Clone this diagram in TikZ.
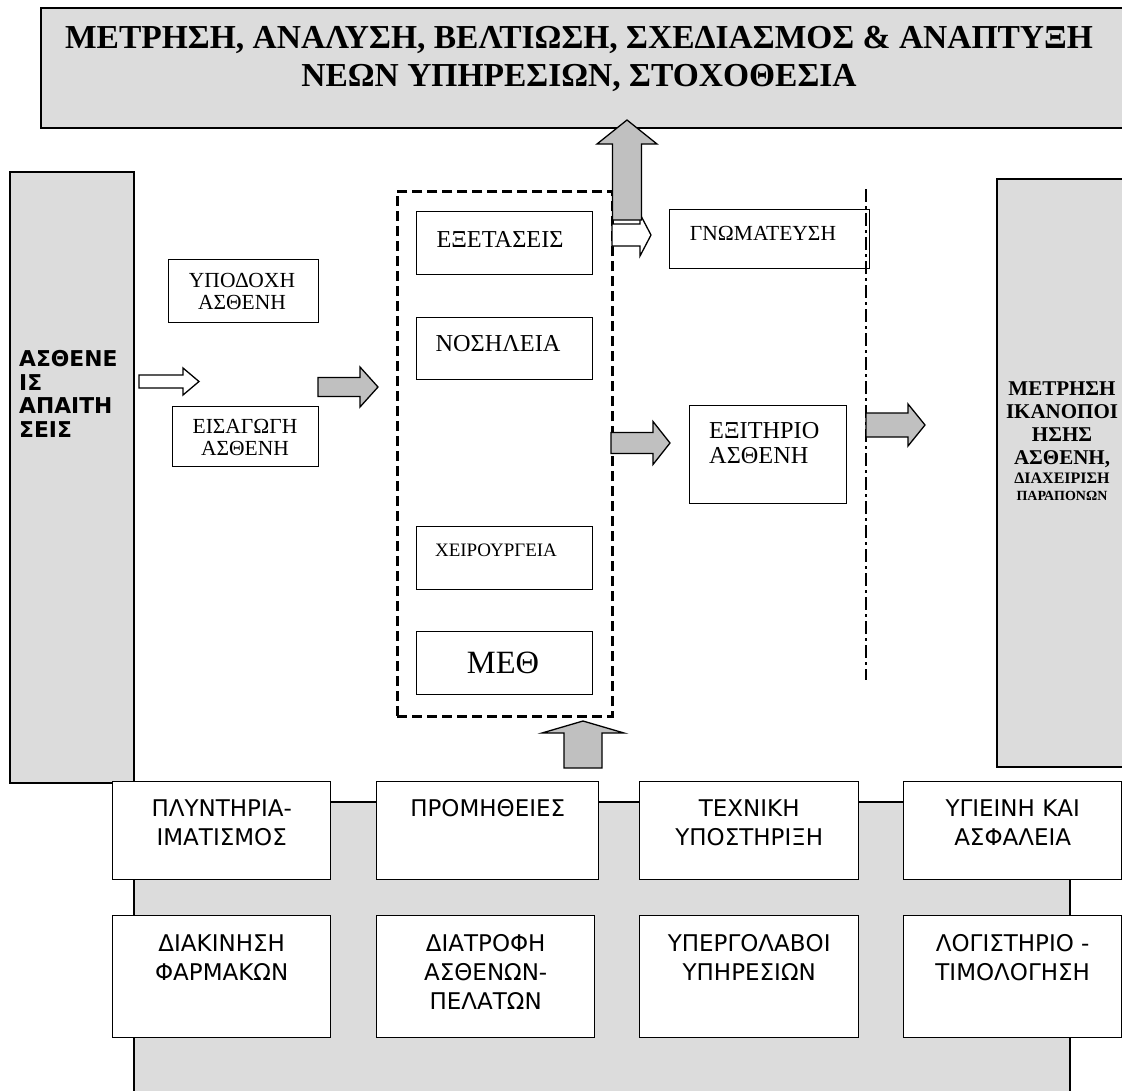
\documentclass[tikz,border=0pt]{standalone}
\usepackage{fontspec}
\setmainfont{Liberation Serif}
\newfontfamily\versans{DejaVu Sans}
\definecolor{panelgray}{HTML}{DCDCDC}
\definecolor{arrowgray}{HTML}{C0C0C0}
\tikzset{
  panel/.style={draw=black, line width=1.5pt, fill=panelgray, inner sep=0pt, anchor=north west},
  frame/.style={draw=black, line width=1.4pt, fill=white, inner sep=0pt, anchor=north west},
  group/.style={draw=black, line width=2.5pt, dash pattern=on 10pt off 5pt, inner sep=0pt, anchor=north west},
  divider/.style={draw=black, line width=2.6pt, dash pattern=on 13pt off 4pt on 3pt off 4pt},
  blockarrow/.style={draw=black, line width=1.3pt, line join=miter},
  serif/.style={inner sep=0pt, align=center, text=black},
  sanstext/.style={inner sep=0pt, align=center, anchor=north, text=black,
    font=\versans\fontsize{23}{29}\selectfont},
}
% right-pointing block arrow: tail x, tip x, head start x, centre y, shaft half, head half, fill
\newcommand\rightblock[7]{%
  \draw[blockarrow, fill=#7] (#1,{#4-#5}) -- (#3,{#4-#5}) -- (#3,{#4-#6}) -- (#2,#4)
    -- (#3,{#4+#6}) -- (#3,{#4+#5}) -- (#1,{#4+#5}) -- cycle;}
% upward block arrow: centre x, tail y, tip y, head base y, shaft half, head half, fill
\newcommand\upblock[7]{%
  \draw[blockarrow, fill=#7] ({#1-#5},#2) -- ({#1-#5},#4) -- ({#1-#6},#4) -- (#1,#3)
    -- ({#1+#6},#4) -- ({#1+#5},#4) -- ({#1+#5},#2) -- cycle;}

\begin{document}
\begin{tikzpicture}[x=1pt,y=-1pt]
\useasboundingbox (0,0) rectangle (1122,1090);

% ---- large grey panels ----
\node[panel, minimum width=1095pt, minimum height=120pt] (goals) at (40,7) {};
\node[serif, font=\bfseries\fontsize{33.5}{38}\selectfont] (goalstext) at (579,59)
  {ΜΕΤΡΗΣΗ, ΑΝΑΛΥΣΗ, ΒΕΛΤΙΩΣΗ, ΣΧΕΔΙΑΣΜΟΣ \& ΑΝΑΠΤΥΞΗ\\ΝΕΩΝ ΥΠΗΡΕΣΙΩΝ, ΣΤΟΧΟΘΕΣΙΑ};

\node[panel, line width=1.8pt, minimum width=124pt, minimum height=611pt] (patients) at (9,171) {};
\node[inner sep=0pt, align=left, anchor=west, font=\versans\bfseries\fontsize{21.8}{23.5}\selectfont]
  (patientstext) at (19,394) {ΑΣΘΕΝΕ\\ΙΣ\\ΑΠΑΙΤΗ\\ΣΕΙΣ};

\node[panel, line width=1.8pt, minimum width=140pt, minimum height=588pt] (satisf) at (996,178) {};
\node[serif, font=\bfseries\fontsize{21}{23}\selectfont] (satisftext) at (1062,441)
  {ΜΕΤΡΗΣΗ\\ΙΚΑΝΟΠΟΙ\\ΗΣΗΣ\\ΑΣΘΕΝΗ,\\[-4pt]
   \fontsize{16}{18}\selectfont ΔΙΑΧΕΙΡΙΣΗ\\[-5.5pt]
   \fontsize{14}{16}\selectfont ΠΑΡΑΠΟΝΩΝ};

% ---- support services ----
\node[panel, minimum width=936pt, minimum height=320pt] (support) at (133,801) {};

\node[frame, minimum width=218pt, minimum height=98pt] (laundry) at (112,781) {};
\node[frame, minimum width=222pt, minimum height=98pt] (supplies) at (376,781) {};
\node[frame, minimum width=219pt, minimum height=98pt] (tech) at (639,781) {};
\node[frame, minimum width=218pt, minimum height=98pt] (hygiene) at (903,781) {};
\node[frame, minimum width=218pt, minimum height=122pt] (drugs) at (112,915) {};
\node[frame, minimum width=218pt, minimum height=122pt] (diet) at (376,915) {};
\node[frame, minimum width=219pt, minimum height=122pt] (subcon) at (639,915) {};
\node[frame, minimum width=218pt, minimum height=122pt] (billing) at (903,915) {};

\node[sanstext] at ([yshift=-18.5pt]laundry.north) {ΠΛΥΝΤΗΡΙΑ-\\ΙΜΑΤΙΣΜΟΣ};
\node[sanstext] at ([yshift=-18.5pt]supplies.north) {ΠΡΟΜΗΘΕΙΕΣ};
\node[sanstext] at ([yshift=-18.5pt]tech.north) {ΤΕΧΝΙΚΗ\\ΥΠΟΣΤΗΡΙΞΗ};
\node[sanstext] at ([yshift=-18.5pt]hygiene.north) {ΥΓΙΕΙΝΗ ΚΑΙ\\ΑΣΦΑΛΕΙΑ};
\node[sanstext] at ([yshift=-19.5pt]drugs.north) {ΔΙΑΚΙΝΗΣΗ\\ΦΑΡΜΑΚΩΝ};
\node[sanstext] at ([yshift=-19.5pt]diet.north) {ΔΙΑΤΡΟΦΗ\\ΑΣΘΕΝΩΝ-\\ΠΕΛΑΤΩΝ};
\node[sanstext] at ([yshift=-19.5pt]subcon.north) {ΥΠΕΡΓΟΛΑΒΟΙ\\ΥΠΗΡΕΣΙΩΝ};
\node[sanstext] at ([yshift=-19.5pt]billing.north) {ΛΟΓΙΣΤΗΡΙΟ -\\ΤΙΜΟΛΟΓΗΣΗ};

% ---- admission ----
\node[frame, minimum width=150pt, minimum height=63pt] (reception) at (168,259) {};
\node[serif, font=\fontsize{21.5}{22}\selectfont] at (242,291) {ΥΠΟΔΟΧΗ\\ΑΣΘΕΝΗ};
\node[frame, minimum width=146pt, minimum height=60pt] (admission) at (172,406) {};
\node[serif, font=\fontsize{21.5}{22}\selectfont] at (245,437.5) {ΕΙΣΑΓΩΓΗ\\ΑΣΘΕΝΗ};

% ---- hospital care ----
\node[group, minimum width=215pt, minimum height=525pt] (care) at (396,190) {};
\node[frame, minimum width=176pt, minimum height=63pt] (exams) at (416,211) {};
\node[serif, font=\fontsize{24.3}{25}\selectfont] at (500,239) {ΕΞΕΤΑΣΕΙΣ};
\node[frame, minimum width=176pt, minimum height=62pt] (ward) at (416,317) {};
\node[serif, font=\fontsize{24.3}{25}\selectfont] at (498,344) {ΝΟΣΗΛΕΙΑ};
\node[frame, minimum width=176pt, minimum height=63pt] (surgery) at (416,526) {};
\node[serif, font=\fontsize{19}{20}\selectfont] at (496,550.5) {ΧΕΙΡΟΥΡΓΕΙΑ};
\node[frame, minimum width=176pt, minimum height=63pt] (icu) at (416,631) {};
\node[serif, font=\fontsize{32.5}{33}\selectfont] at (503,663) {ΜΕΘ};

% ---- discharge ----
\node[frame, minimum width=200pt, minimum height=59pt] (opinion) at (669,209) {};
\node[serif, font=\fontsize{21.5}{22}\selectfont] at (763,233) {ΓΝΩΜΑΤΕΥΣΗ};
\node[frame, minimum width=157pt, minimum height=98pt] (discharge) at (689,405) {};
\node[inner sep=0pt, align=left, anchor=west, font=\fontsize{24.3}{25}\selectfont] at (709,443)
  {ΕΞΙΤΗΡΙΟ\\ΑΣΘΕΝΗ};

\coordinate (divtop) at (866,189);
\coordinate (divbot) at (866,680);
\draw[divider] (divtop) -- (divbot);

% ---- block arrows ----
\rightblock{139}{199}{183}{381.5}{6.5}{13.5}{white}
\rightblock{318}{378}{360}{387}{9.5}{20}{arrowgray}
\rightblock{612}{651}{640}{235}{11}{21}{white}
\upblock{627}{220}{120}{144}{14.5}{30}{arrowgray}
\rightblock{611}{670}{653}{443}{10.5}{21.5}{arrowgray}
\rightblock{866}{925}{908}{425}{12}{21}{arrowgray}
\upblock{583}{768}{721}{733}{19}{41}{arrowgray}
\end{tikzpicture}
\end{document}
